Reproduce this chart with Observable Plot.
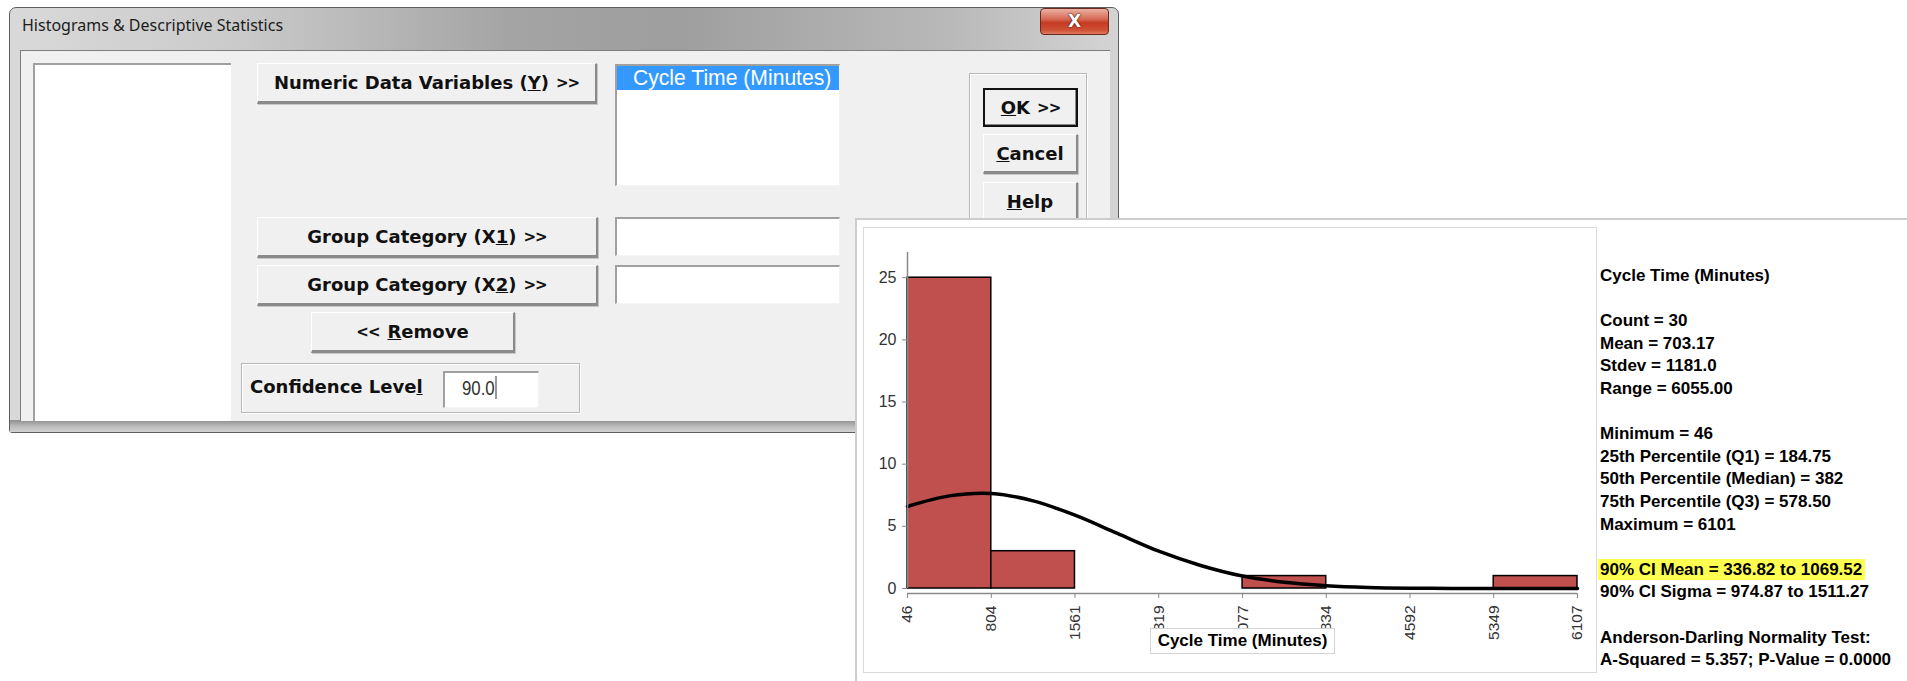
<!DOCTYPE html>
<html><head><meta charset="utf-8">
<script src="https://cdn.jsdelivr.net/npm/d3@7"></script>
<script src="https://cdn.jsdelivr.net/npm/@observablehq/plot@0.6"></script>
<style>
body{margin:0;width:1907px;height:681px;background:#fff;position:relative;overflow:hidden;font-family:"Liberation Sans",Arial,sans-serif;}
.a{position:absolute;box-sizing:border-box;}
.win{left:9px;top:7px;width:1110px;height:426px;border:1px solid #5e5e5e;border-radius:7px 7px 3px 3px;
 background:linear-gradient(to right,#d9d9d9 0%,#cbcbcb 20%,#a4a4a4 45%,#9e9e9e 60%,#b9b9b9 85%,#d4d4d4 100%);}
.winbot{left:10px;top:420px;width:1108px;height:12px;background:linear-gradient(#8e8e8e,#b9b9b9 50%,#d2d2d2);}
.title{left:22px;top:14px;font-family:"Noto Sans","Open Sans",sans-serif;font-size:16px;color:#1c1c1c;white-space:nowrap;}
.close{left:1040px;top:8px;width:69px;height:27px;border:1px solid #6a2a1e;border-radius:4px;
 background:linear-gradient(#eab0a2,#d76a55 40%,#c43a22 55%,#cf5236 85%,#e07a60);color:#fff;font:bold 17px "DejaVu Sans",sans-serif;
 text-align:center;line-height:25px;text-shadow:0 0 2px #4a120a,0 0 1px #4a120a;}
.client{left:20px;top:50px;width:1090px;height:371px;background:#f0f0f0;border-top:1px solid #7d7d7d;border-left:1px solid #7d7d7d;}
.box{background:#fff;border-top:2px solid #a0a0a0;border-left:2px solid #a0a0a0;border-right:1px solid #f4f4f4;border-bottom:1px solid #f4f4f4;}
.btn{background:#f0f0f0;border-top:1px solid #fff;border-left:1px solid #fff;border-right:2px solid #8a8a8a;border-bottom:3px solid #8a8a8a;
 box-shadow:1px 1px 0 #c8c8c8;font:bold 18px "DejaVu Sans",sans-serif;color:#111;text-align:center;display:flex;align-items:center;justify-content:center;white-space:nowrap;}
.grp{border:1px solid #b8b8b8;box-shadow:inset 1px 1px 0 #fff,1px 1px 0 #fff;}
.chev{font-size:15px;margin-left:7px;letter-spacing:-1px;}
.narrow{display:inline-block;transform:scaleX(0.8);transform-origin:left center;white-space:nowrap;}
.panel{left:855px;top:218px;width:1052px;height:463px;background:#fff;border-left:2px solid #cdcdcd;border-top:2px solid #cdcdcd;}
.inner{left:863px;top:227px;width:734px;height:446px;border:1px solid #d9d9d9;}
#chart{position:absolute;left:863px;top:227px;}
.xlab{left:1150px;top:628px;width:185px;height:26px;background:#fff;border:1px solid #d4d4d4;font:bold 17px "Liberation Sans",Arial,sans-serif;color:#000;text-align:center;line-height:24px;white-space:nowrap;}
.stat{left:1600px;font:bold 17px "Liberation Sans",Arial,sans-serif;color:#000;white-space:nowrap;line-height:22px;}
.hl{background:#ffff4f;padding:1px 3px 1px 2px;margin-left:-2px;}
</style></head><body>
<div class="a win"></div>
<div class="a winbot"></div>
<div class="a title">Histograms &amp; Descriptive Statistics</div>
<div class="a close">X</div>
<div class="a client"></div>
<div class="a box" style="left:33px;top:63px;width:198px;height:358px;border-right:none;border-bottom:none"></div>
<div class="a btn" style="left:257px;top:63px;width:340px;height:41px">Numeric Data Variables (<u>Y</u>)<span class="chev">&gt;&gt;</span></div>
<div class="a box" style="left:615px;top:64px;width:225px;height:122px"></div>
<div class="a" style="left:617px;top:66px;width:222px;height:24px;background:#3399ff;color:#fff;font:22px 'Liberation Sans',Arial;padding-left:16px;line-height:24px;white-space:nowrap;overflow:hidden"><span class="narrow" style="transform:scaleX(0.96)">Cycle Time (Minutes)</span></div>
<div class="a grp" style="left:969px;top:73px;width:118px;height:200px"></div>
<div class="a btn" style="left:983px;top:88px;width:95px;height:39px;border:2px solid #111;box-shadow:inset -1px -1px 0 #8a8a8a"><u>O</u>K<span class="chev">&gt;&gt;</span></div>
<div class="a btn" style="left:983px;top:134px;width:95px;height:40px"><u>C</u>ancel</div>
<div class="a btn" style="left:983px;top:182px;width:95px;height:41px"><u>H</u>elp</div>
<div class="a btn" style="left:257px;top:217px;width:341px;height:41px">Group Category (X<u>1</u>)<span class="chev">&gt;&gt;</span></div>
<div class="a box" style="left:615px;top:217px;width:225px;height:39px"></div>
<div class="a btn" style="left:257px;top:265px;width:341px;height:41px">Group Category (X<u>2</u>)<span class="chev">&gt;&gt;</span></div>
<div class="a box" style="left:615px;top:265px;width:225px;height:39px"></div>
<div class="a btn" style="left:311px;top:312px;width:204px;height:41px"><span class="chev" style="margin:0 8px 0 0">&lt;&lt;</span><u>R</u>emove</div>
<div class="a grp" style="left:241px;top:363px;width:339px;height:50px"></div>
<div class="a" style="left:250px;top:376px;font:bold 18px 'DejaVu Sans',sans-serif;color:#111;white-space:nowrap">Confidence Leve<u>l</u></div>
<div class="a box" style="left:443px;top:371px;width:96px;height:37px"></div>
<div class="a" style="left:462px;top:376px;font:21px 'Liberation Sans',Arial;color:#333;white-space:nowrap"><span class="narrow">90.0<span style="border-left:1.5px solid #000;margin-left:1px"></span></span></div>

<div class="a panel"></div>
<div class="a inner"></div>
<div id="chart"></div>
<div class="a xlab" id="xlab"></div>
<div id="stats"></div>

<script>
// ---- data ----
const binEdges = [46, 804, 1561, 2319, 3077, 3834, 4592, 5349, 6107];
const binLabels = ["46", "804", "1561", "2319", "3077", "3834", "4592", "5349", "6107"];
const binCounts = [25, 3, 0, 0, 1, 0, 0, 1];
const yTicks = [0, 5, 10, 15, 20, 25];
const curveX = [46, 425, 804, 1183, 1561, 1940, 2319, 2698, 3077, 3456, 3834, 4213, 4592, 4970, 5349, 5728, 6107];
const curveY = [6.6, 7.45, 7.65, 7.05, 5.9, 4.45, 3.0, 1.85, 1.0, 0.5, 0.23, 0.09, 0.03, 0.01, 0, 0, 0];
const xTitle = "Cycle Time (Minutes)";
const statsLines = [
  "Cycle Time (Minutes)", "",
  "Count = 30", "Mean = 703.17", "Stdev = 1181.0", "Range = 6055.00", "",
  "Minimum = 46", "25th Percentile (Q1) = 184.75", "50th Percentile (Median) = 382",
  "75th Percentile (Q3) = 578.50", "Maximum = 6101", "",
  "90% CI Mean = 336.82 to 1069.52", "90% CI Sigma = 974.87 to 1511.27", "",
  "Anderson-Darling Normality Test:", "A-Squared = 5.357; P-Value = 0.0000"
];
const highlightLine = "90% CI Mean = 336.82 to 1069.52";

// ---- chart ----
const bars = binCounts.map((c, i) => ({x1: binEdges[i], x2: binEdges[i + 1], count: c})).filter(d => d.count > 0);
const curve = curveX.map((x, i) => ({x, y: curveY[i]}));
const yMax = 27.43;
const chart = Plot.plot({
  width: 733, height: 445,
  marginLeft: 44, marginRight: 19, marginTop: 20, marginBottom: 84,
  style: {background: "transparent", fontFamily: "'Liberation Sans', Arial, sans-serif", fontSize: "16px", color: "#333", overflow: "visible"},
  x: {domain: [46, 6107]},
  y: {domain: [0, yMax]},
  marks: [
    Plot.rect(bars, {x1: "x1", x2: "x2", y1: 0, y2: "count", fill: "#C0504D", stroke: "#000", strokeWidth: 1.5}),
    Plot.line(curve, {x: "x", y: "y", stroke: "#000", strokeWidth: 3.5, curve: "catmull-rom"}),
    Plot.ruleX([46], {y1: 0, y2: yMax, insetBottom: -5, stroke: "#8a8a8a", strokeWidth: 1.5}),
    Plot.ruleY([0], {x1: 46, x2: 6107, dy: 5, stroke: "#8a8a8a", strokeWidth: 1.5}),
    Plot.axisY({ticks: yTicks, tickSize: 5, tickPadding: 6, label: null, stroke: "#8a8a8a", fontSize: 16}),
    Plot.axisX({ticks: binEdges, tickFormat: d => binLabels[binEdges.indexOf(d)], tickSize: 5, tickPadding: 7, tickRotate: -90, dy: 5, label: null, stroke: "#8a8a8a", fontSize: 15.5})
  ]
});
document.getElementById("chart").appendChild(chart);
document.getElementById("xlab").textContent = xTitle;

const st = document.getElementById("stats");
statsLines.forEach((t, i) => {
  if (!t) return;
  const d = document.createElement("div");
  d.className = "a stat";
  d.style.top = (265 + i * 22.6) + "px";
  if (t === highlightLine) {
    const s = document.createElement("span");
    s.className = "hl"; s.textContent = t; d.appendChild(s);
  } else d.textContent = t;
  st.appendChild(d);
});
</script>
</body></html>
